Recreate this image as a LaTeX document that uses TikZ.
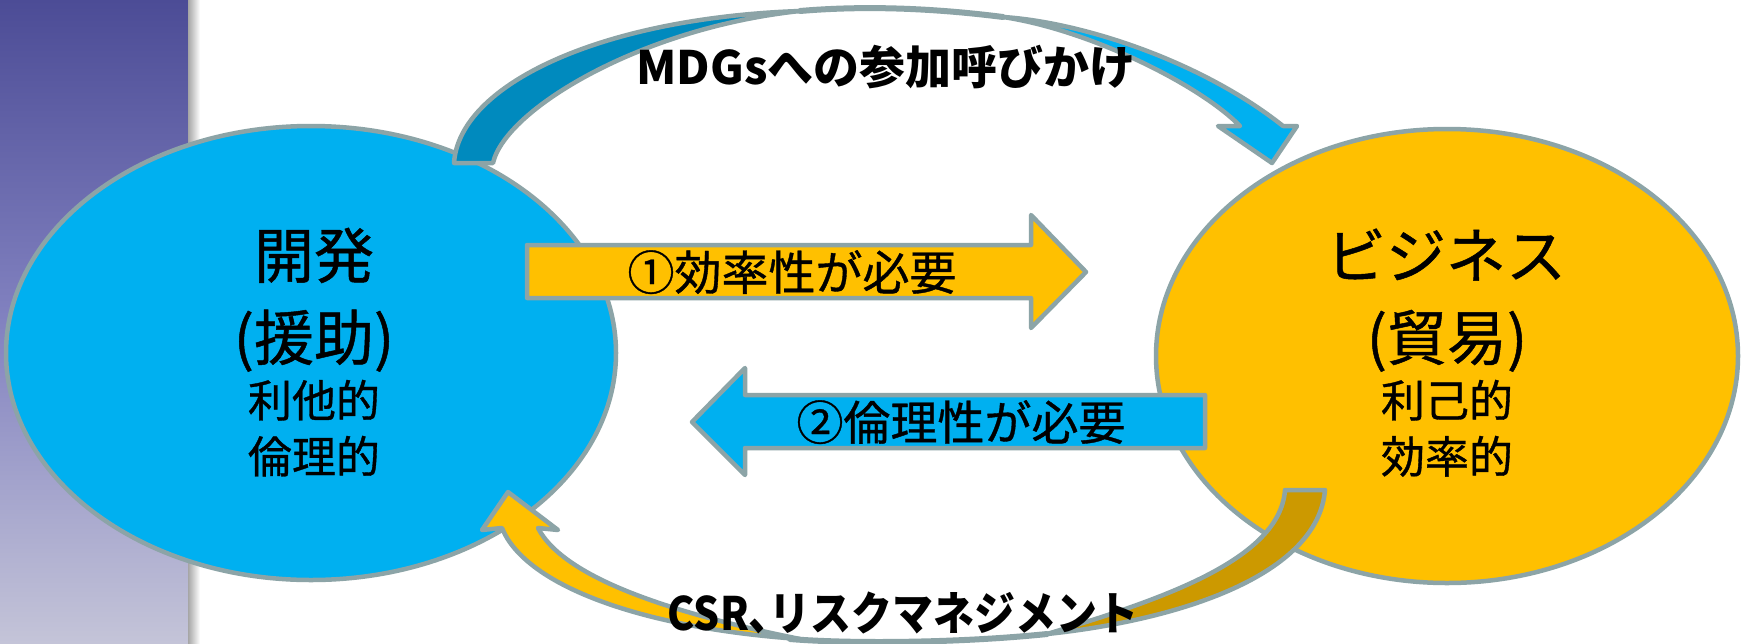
\documentclass[tikz,border=0pt]{standalone}
\usepackage{fontspec}
\setmainfont{Noto Sans CJK JP}
\newfontfamily\jpheavy[FakeBold=0.8]{Noto Sans CJK JP}
\usetikzlibrary{shapes.geometric}
\definecolor{edge}{RGB}{140,164,167}
\definecolor{sky}{RGB}{0,176,240}
\definecolor{skydark}{RGB}{0,138,190}
\definecolor{amber}{RGB}{255,192,0}
\definecolor{amberdark}{RGB}{204,153,0}
\definecolor{stripetop}{RGB}{76,76,150}
\definecolor{stripemid}{RGB}{130,130,192}
\definecolor{stripebot}{RGB}{196,196,216}
\begin{document}
\begin{tikzpicture}[x=1pt,y=-1pt,
  outl/.style={draw=edge, line width=4.5pt, line join=round},
  blob/.style={ellipse, outl, inner sep=0pt},
  thinband/.style={draw=edge, line width=6pt, line cap=round},
  bigtxt/.style={font=\fontsize{60}{60}\selectfont\jpheavy, anchor=base},
  smalltxt/.style={font=\fontsize{44}{44}\selectfont\jpheavy, anchor=base},
  arrowtxt/.style={font=\fontsize{47}{47}\selectfont\jpheavy, anchor=base},
  curvetxt/.style={font=\fontsize{46}{46}\selectfont\bfseries, anchor=base}]
\useasboundingbox (0,0) rectangle (1742,643);
\fill[white] (0,0) rectangle (1742,643);
\shade[top color=stripetop, bottom color=stripebot, middle color=stripemid] (0,0) rectangle (188,643);
\shade[left color=black!35, right color=white] (188,0) rectangle (200,643);

% main ellipses
\node[blob, fill=sky, minimum width=610pt, minimum height=454pt] (dev) at (311,353) {};
\node[blob, fill=amber, minimum width=582pt, minimum height=454pt] (biz) at (1447,356) {};

% straight block arrows
\draw[outl, fill=amber] (527,245) -- (1031,245) -- (1031,215) -- (1086,272) -- (1031,328) -- (1031,298) -- (527,298) -- cycle;
\draw[outl, fill=sky] (1205,395) -- (745,395) -- (745,368) -- (692,422) -- (745,475) -- (745,448) -- (1205,448) -- cycle;

% top curved arrow
\draw[outl, fill=skydark] (454,163) .. controls (459,85) and (600,18) .. (800,11) .. controls (640,28) and (505,110) .. (493,163) -- cycle;
\draw[thinband] (800,11) .. controls (870,5) and (940,9) .. (1003,17);
\draw[outl, fill=sky] (1003,17) .. controls (1080,22) and (1200,60) .. (1283,126) -- (1297,126) -- (1272,163) -- (1218,126) -- (1240,126) .. controls (1200,85) and (1090,30) .. (1003,17) -- cycle;

% bottom curved arrow
\draw[outl, fill=amberdark] (1285,490) -- (1325,490) .. controls (1318,575) and (1180,620) .. (1047,634) .. controls (1160,600) and (1280,560) .. (1285,490) -- cycle;
\draw[thinband] (790,639) .. controls (850,644) and (960,643) .. (1047,634);
\draw[outl, fill=amber] (800,639) .. controls (640,628) and (525,585) .. (502,528) -- (482,530) -- (508,492) -- (558,530) -- (538,528) .. controls (565,580) and (680,615) .. (800,639) -- cycle;

% texts
\node[bigtxt] (t1) at (314,278) {開発};
\node[bigtxt] (t2) at (314,360) {(援助)};
\node[smalltxt] (t3) at (314,417) {利他的};
\node[smalltxt] (t4) at (314,473) {倫理的};
\node[bigtxt] (t5) at (1446,278) {ビジネス};
\node[bigtxt] (t6) at (1447,360) {(貿易)};
\node[smalltxt] (t7) at (1447,417) {利己的};
\node[smalltxt] (t8) at (1447,473) {効率的};
\node[arrowtxt] (a1t) at (792,290) {①効率性が必要};
\node[arrowtxt] (a2t) at (961,440) {②倫理性が必要};
\node[curvetxt] (topt) at (886,84) {MDGsへの参加呼びかけ};
\node[curvetxt] (bott) at (903,630) {\scalebox{0.89}[1]{CSR､リスクマネジメント}};
\end{tikzpicture}
\end{document}
